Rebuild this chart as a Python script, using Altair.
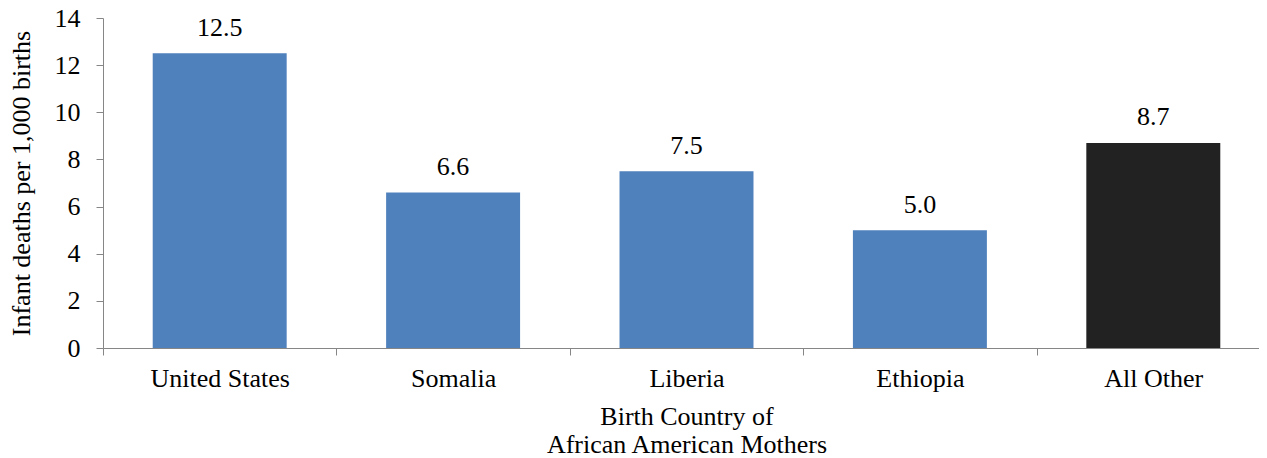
import altair as alt
import pandas as pd

countries = ["United States", "Somalia", "Liberia", "Ethiopia", "All Other"]
rates = [12.5, 6.6, 7.5, 5.0, 8.7]
bar_colors = ["#4F81BD", "#4F81BD", "#4F81BD", "#4F81BD", "#222222"]

df = pd.DataFrame({"country": countries, "rate": rates, "color": bar_colors})

FONT = "Liberation Serif"
FS = 26
GRAY = "#868686"

x_enc = alt.X(
    "country:N",
    sort=countries,
    scale=alt.Scale(paddingInner=0, paddingOuter=0),
    axis=alt.Axis(
        title=["Birth Country of", "African American Mothers"],
        titleFont=FONT, titleFontSize=FS, titleFontWeight="normal", titleColor="black",
        titleLineHeight=28, titlePadding=12,
        labelFont=FONT, labelFontSize=FS, labelColor="black", labelPadding=10,
        labelAngle=0,
        tickBand="extent", ticks=True, tickSize=7, tickColor=GRAY,
        domainColor=GRAY, grid=False,
    ),
)
y_enc = alt.Y(
    "rate:Q",
    scale=alt.Scale(domain=[0, 14], nice=False),
    axis=alt.Axis(
        title="Infant deaths per 1,000 births",
        titleFont=FONT, titleFontSize=FS, titleFontWeight="normal", titleColor="black",
        titlePadding=20,
        labelFont=FONT, labelFontSize=FS, labelColor="black", labelPadding=16,
        values=[0, 2, 4, 6, 8, 10, 12, 14],
        tickSize=7, tickColor=GRAY, domainColor=GRAY, grid=False,
    ),
)

bars = alt.Chart(df).mark_bar(width={"band": 0.574}).encode(
    x=x_enc, y=y_enc, color=alt.Color("color:N", scale=None)
)
labels = alt.Chart(df).mark_text(
    dy=-17.5, baseline="alphabetic", font=FONT, fontSize=FS, color="black"
).encode(x=x_enc, y=y_enc, text=alt.Text("rate:Q", format=".1f"))

chart = (
    alt.layer(bars, labels)
    .properties(
        width=1167,
        height=330,
        autosize=alt.AutoSizeParams(type="none"),
        padding={"left": 95, "top": 10, "right": -11, "bottom": 110},
    )
    .configure_view(stroke=None)
)

chart.save("out.html", embed_options={"renderer": "svg", "actions": False})
